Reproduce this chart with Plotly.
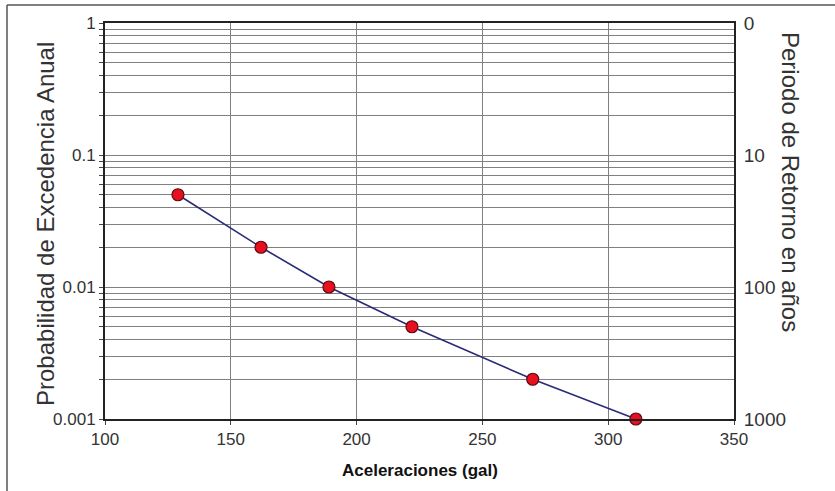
import plotly.graph_objects as go

# Data
aceleraciones = [129, 162, 189, 222, 270, 311]
probabilidad = [0.05, 0.02, 0.01, 0.005, 0.002, 0.001]
left_tick_vals = [1, 0.1, 0.01, 0.001]
left_tick_text = ["1", "0.1", "0.01", "0.001"]
right_tick_text = ["0", "10", "100", "1000"]
x_ticks = [100, 150, 200, 250, 300, 350]

W, H = 835, 491
ML, MR, MT, MB = 105, 101, 23, 72
PW, PH = W - ML - MR, H - MT - MB

def px_x(p):
    return (p - ML) / PW

def px_y(p):
    return (H - MB - p) / PH

# log grid values (1..9 per decade)
grid_vals = []
for dec in [0.001, 0.01, 0.1]:
    for d in range(1, 10):
        grid_vals.append(round(d * dec, 6))
grid_vals.append(1)
grid_text = [left_tick_text[left_tick_vals.index(v)] if v in left_tick_vals else "" for v in grid_vals]
grid_text_r = [right_tick_text[left_tick_vals.index(v)] if v in left_tick_vals else "" for v in grid_vals]

font_family = "Liberation Sans, Arial, sans-serif"

fig = go.Figure()
fig.add_trace(go.Scatter(
    x=aceleraciones, y=probabilidad, mode="lines+markers",
    line=dict(color="#2a2a78", width=1.6),
    marker=dict(size=12, color="#e8101e", line=dict(color="#5a0a14", width=1.2)),
    showlegend=False, cliponaxis=False,
))
fig.add_trace(go.Scatter(x=[aceleraciones[0]], y=[probabilidad[0]], yaxis="y2",
                         mode="markers", marker=dict(opacity=0), showlegend=False, hoverinfo="skip"))

fig.update_layout(
    width=W, height=H,
    margin=dict(l=ML, r=MR, t=MT, b=MB, autoexpand=False),
    paper_bgcolor="white", plot_bgcolor="white",
    font=dict(family=font_family, color="#222", size=14),
    xaxis=dict(
        range=[100, 350], tickvals=x_ticks, ticktext=[str(v) for v in x_ticks],
        showgrid=True, gridcolor="#808080", gridwidth=1,
        showline=True, linecolor="#222", linewidth=2, mirror=True,
        ticks="outside", ticklen=4, tickcolor="#444",
        tickfont=dict(size=17, color="#333"), zeroline=False, automargin=False,
    ),
    yaxis=dict(
        type="log", range=[-3, 0], tickvals=grid_vals, ticktext=grid_text,
        showgrid=True, gridcolor="#808080", gridwidth=1,
        showline=True, linecolor="#222", linewidth=2, mirror=True,
        ticks="outside", ticklen=4, tickcolor="#444",
        tickfont=dict(size=17, color="#333"), zeroline=False, automargin=False,
    ),
    yaxis2=dict(
        type="log", range=[-3, 0], overlaying="y", side="right",
        tickvals=grid_vals, ticktext=grid_text_r,
        showgrid=False, ticks="outside", ticklen=5, tickcolor="rgba(0,0,0,0)",
        showline=False,
        tickfont=dict(size=19, color="#333"), zeroline=False, automargin=False,
    ),
    annotations=[
        dict(text="Probabilidad de Excedencia Anual", xref="paper", yref="paper",
             x=px_x(45), y=px_y(224), textangle=-90, showarrow=False,
             font=dict(size=24, color="#333"), xanchor="center", yanchor="middle"),
        dict(text="Periodo de Retorno en años", xref="paper", yref="paper",
             x=px_x(791), y=px_y(182), textangle=90, showarrow=False,
             font=dict(size=24, color="#333"), xanchor="center", yanchor="middle"),
        dict(text="<b>Aceleraciones (gal)</b>", xref="paper", yref="paper",
             x=px_x(420), y=px_y(470),
             showarrow=False, font=dict(size=17, color="#111"),
             xanchor="center", yanchor="middle"),
    ],
    shapes=[
        dict(type="line", xref="paper", yref="paper",
             x0=px_x(7), x1=px_x(835), y0=px_y(5), y1=px_y(5),
             line=dict(color="#555", width=1.5)),
        dict(type="line", xref="paper", yref="paper",
             x0=px_x(7), x1=px_x(7), y0=px_y(5), y1=px_y(491),
             line=dict(color="#555", width=1.5)),
    ],
)

fig.write_html("out.html", config={"displayModeBar": False},
               post_script="document.body.style.margin='0';document.body.style.padding='0';")
